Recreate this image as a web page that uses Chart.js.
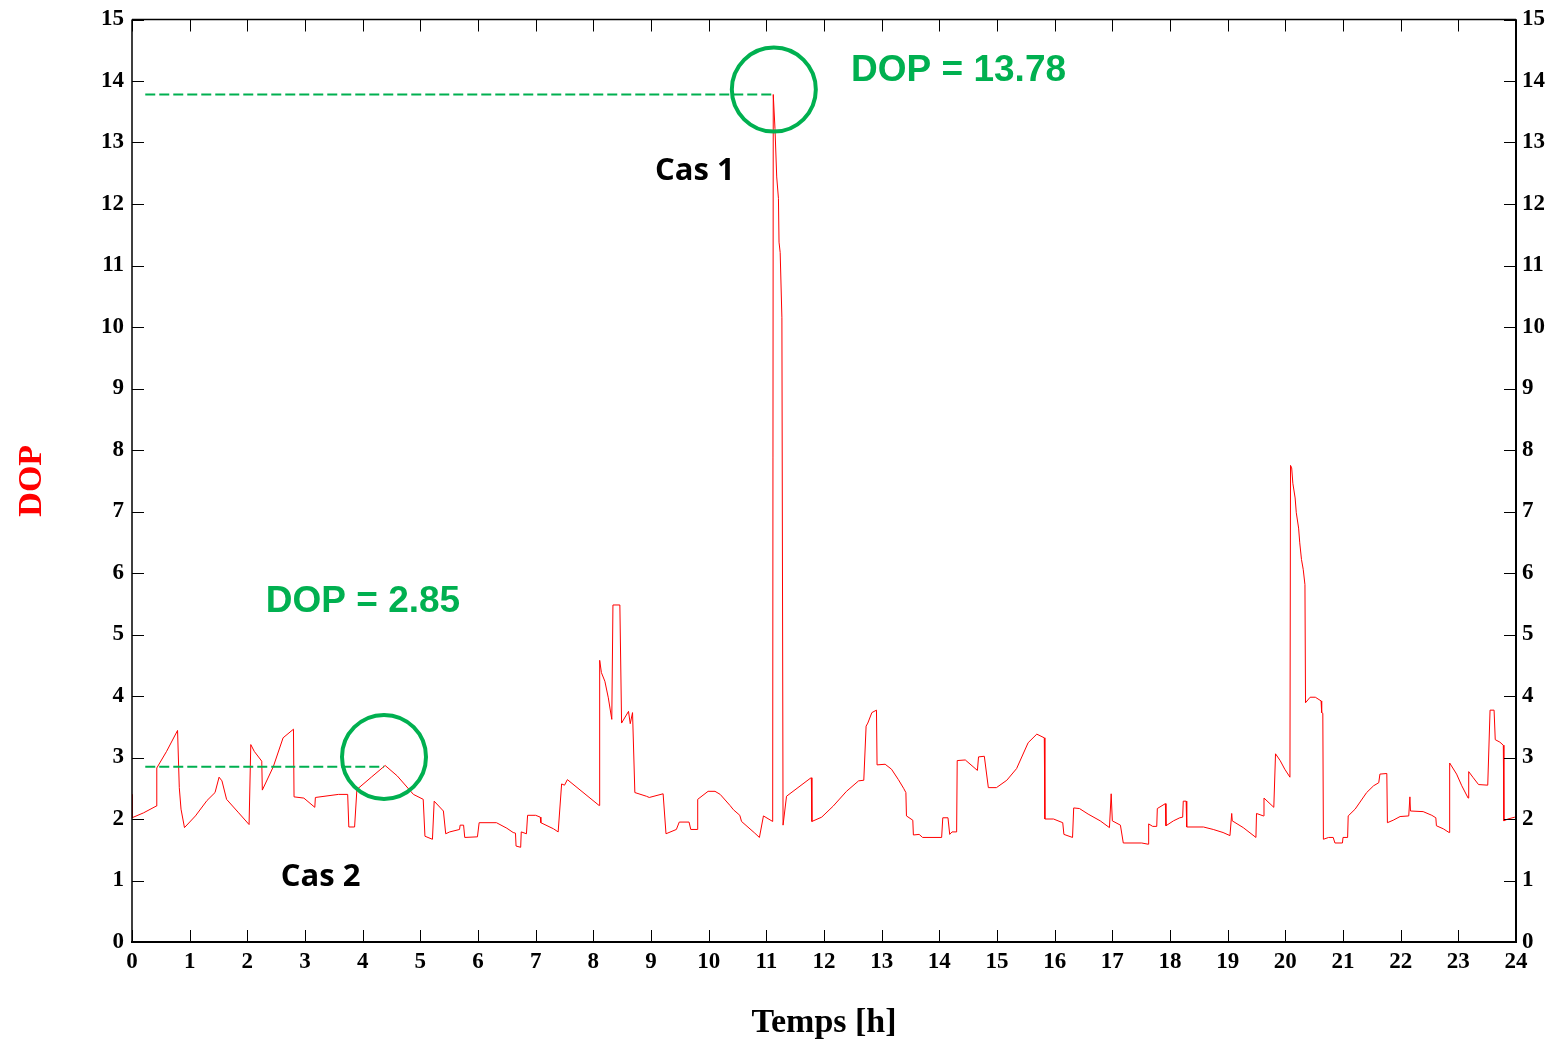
<!DOCTYPE html>
<html>
<head>
<meta charset="utf-8">
<title>DOP</title>
<script src="https://cdn.jsdelivr.net/npm/chart.js@4.4.1/dist/chart.umd.min.js"></script>
<style>
  html, body { margin: 0; padding: 0; background: #fff; }
  #wrap { width: 1556px; height: 1044px; }
</style>
</head>
<body>
<div id="wrap"><canvas id="dopChart" width="1556" height="1044"></canvas></div>
<script>
// temps en heures, valeurs DOP
const timeH = [
  0.00, 0.00, 0.20, 0.42, 0.43, 0.60, 0.79, 0.82, 0.85, 0.91, 1.10, 1.30, 1.44, 1.51, 1.56, 1.64, 1.85, 2.03,
  2.06, 2.12, 2.25, 2.26, 2.45, 2.62, 2.80, 2.81, 2.98, 3.17, 3.18, 3.58, 3.74, 3.76, 3.86, 3.90, 4.15, 4.39,
  4.60, 4.88, 5.05, 5.08, 5.21, 5.24, 5.40, 5.44, 5.51, 5.68, 5.69, 5.75, 5.77, 5.99, 6.02, 6.32, 6.50, 6.61,
  6.65, 6.66, 6.74, 6.75, 6.84, 6.86, 7.00, 7.08, 7.09, 7.31, 7.39, 7.45, 7.50, 7.55, 8.10, 8.11, 8.14, 8.20,
  8.26, 8.32, 8.34, 8.46, 8.49, 8.61, 8.64, 8.68, 8.72, 8.92, 8.97, 9.21, 9.26, 9.44, 9.49, 9.66, 9.69, 9.80,
  9.81, 9.99, 10.11, 10.20, 10.37, 10.43, 10.54, 10.57, 10.80, 10.88, 10.95, 11.11, 11.12, 11.15, 11.18, 11.21,
  11.22, 11.24, 11.27, 11.29, 11.35, 11.76, 11.78, 11.79, 11.96, 12.16, 12.39, 12.60, 12.69, 12.73, 12.76, 12.83,
  12.91, 12.92, 13.06, 13.17, 13.29, 13.38, 13.42, 13.43, 13.54, 13.55, 13.65, 13.71, 14.04, 14.06, 14.15, 14.18,
  14.22, 14.30, 14.31, 14.45, 14.66, 14.68, 14.78, 14.85, 14.99, 15.17, 15.34, 15.54, 15.69, 15.82, 15.83, 15.98,
  16.14, 16.16, 16.31, 16.33, 16.43, 16.58, 16.79, 16.95, 16.98, 17.00, 17.14, 17.19, 17.51, 17.62, 17.63, 17.70,
  17.77, 17.78, 17.92, 17.93, 18.06, 18.17, 18.22, 18.23, 18.28, 18.29, 18.58, 18.75, 18.92, 19.04, 19.07, 19.08,
  19.27, 19.49, 19.50, 19.62, 19.63, 19.80, 19.83, 19.91, 19.99, 20.08, 20.09, 20.11, 20.13, 20.17, 20.19, 20.23,
  20.25, 20.28, 20.31, 20.34, 20.35, 20.43, 20.52, 20.62, 20.63, 20.65, 20.66, 20.75, 20.83, 20.86, 20.99, 21.00,
  21.08, 21.09, 21.21, 21.41, 21.53, 21.62, 21.64, 21.76, 21.77, 21.87, 21.99, 22.14, 22.16, 22.17, 22.39, 22.54,
  22.61, 22.62, 22.74, 22.84, 22.85, 22.97, 23.06, 23.17, 23.18, 23.26, 23.35, 23.51, 23.55, 23.62, 23.64, 23.72,
  23.78, 23.79, 23.86, 23.98
];
const dop = [
  2.40, 2.02, 2.10, 2.21, 2.83, 3.10, 3.44, 2.51, 2.16, 1.86, 2.05, 2.30, 2.43, 2.68, 2.62, 2.32, 2.10, 1.91,
  3.21, 3.10, 2.94, 2.47, 2.85, 3.32, 3.46, 2.36, 2.34, 2.19, 2.35, 2.40, 2.40, 1.87, 1.87, 2.48, 2.68, 2.87,
  2.70, 2.40, 2.32, 1.72, 1.67, 2.29, 2.13, 1.76, 1.79, 1.83, 1.90, 1.90, 1.70, 1.71, 1.94, 1.94, 1.85, 1.78,
  1.77, 1.56, 1.54, 1.79, 1.76, 2.06, 2.06, 2.03, 1.94, 1.84, 1.79, 2.57, 2.55, 2.64, 2.22, 4.58, 4.38, 4.24,
  3.97, 3.62, 5.48, 5.48, 3.56, 3.75, 3.55, 3.73, 2.43, 2.37, 2.35, 2.41, 1.76, 1.83, 1.95, 1.95, 1.83, 1.83,
  2.32, 2.45, 2.45, 2.40, 2.22, 2.15, 2.06, 1.96, 1.77, 1.70, 2.05, 1.96, 13.78, 13.23, 12.44, 12.09,
  11.38, 11.21, 10.15, 1.90, 2.37, 2.66, 2.67, 1.96, 2.03, 2.21, 2.45, 2.62, 2.63, 3.51, 3.56, 3.73,
  3.77, 2.88, 2.89, 2.81, 2.64, 2.50, 2.43, 2.05, 1.98, 1.74, 1.75, 1.70, 1.70, 2.02, 2.02, 1.75,
  1.79, 1.79, 2.95, 2.96, 2.79, 3.01, 3.02, 2.51, 2.51, 2.63, 2.82, 3.24, 3.38, 3.32, 2.00, 2.00,
  1.94, 1.75, 1.70, 2.18, 2.17, 2.08, 1.97, 1.86, 2.41, 1.97, 1.90, 1.61, 1.61, 1.59, 1.92, 1.88,
  1.88, 2.17, 2.25, 1.89, 1.97, 2.02, 2.03, 2.29, 2.29, 1.87, 1.87, 1.83, 1.78, 1.73, 2.09, 1.97,
  1.86, 1.70, 2.09, 2.05, 2.34, 2.19, 3.06, 2.95, 2.81, 2.68, 7.75, 7.71, 7.46, 7.22, 6.98, 6.73,
  6.49, 6.22, 6.06, 5.81, 3.89, 3.98, 3.98, 3.92, 3.73, 3.72, 1.67, 1.70, 1.70, 1.61, 1.61, 1.70,
  1.70, 2.05, 2.16, 2.43, 2.54, 2.59, 2.73, 2.74, 1.94, 1.98, 2.04, 2.05, 2.36, 2.13, 2.12, 2.06,
  2.02, 1.89, 1.84, 1.78, 2.91, 2.73, 2.54, 2.34, 2.77, 2.67, 2.56, 2.55, 3.77, 3.77, 3.29, 3.25,
  3.20, 1.97, 2.00, 2.03
];

// repères (cas 1 et cas 2)
const caseTime = [11.12, 4.39];
const caseDop = [13.78, 2.85];
const refLineStart = 0.23;
const circleX = [11.13, 4.37];
const circleY = [13.86, 3.01];

// textes
const valueText = ["DOP = 13.78", "DOP = 2.85"];
const valueTextX = [12.47, 2.32];
const valueTextY = [14.16, 5.53];
const caseText = ["Cas 1", "Cas 2"];
const caseTextX = [9.07, 2.58];
const caseTextY = [12.53, 1.06];

const GREEN = "#00B050";

const frameTicks = {
  id: "frameTicks",
  afterDatasetsDraw(chart) {
    const { ctx, chartArea: a, scales } = chart;
    ctx.save();
    ctx.strokeStyle = "#000";
    ctx.lineWidth = 1;
    ctx.beginPath();
    scales.y.ticks.forEach(t => {
      const py = Math.round(scales.y.getPixelForValue(t.value)) + 0.5;
      ctx.moveTo(a.left, py); ctx.lineTo(a.left + 12, py);
      ctx.moveTo(a.right, py); ctx.lineTo(a.right - 12, py);
    });
    scales.x.ticks.forEach(t => {
      const px = Math.round(scales.x.getPixelForValue(t.value)) + 0.5;
      ctx.moveTo(px, a.bottom); ctx.lineTo(px, a.bottom - 12);
      ctx.moveTo(px, a.top); ctx.lineTo(px, a.top + 12);
    });
    ctx.stroke();

    ctx.lineWidth = 1.5;
    ctx.beginPath();
    ctx.moveTo(a.left, a.top); ctx.lineTo(a.right, a.top);
    ctx.moveTo(a.left, a.top); ctx.lineTo(a.left, a.bottom);
    ctx.stroke();
    ctx.lineWidth = 2;
    ctx.beginPath();
    ctx.moveTo(a.left - 1, a.bottom); ctx.lineTo(a.right + 1, a.bottom);
    ctx.moveTo(a.right, a.top); ctx.lineTo(a.right, a.bottom);
    ctx.stroke();

    // cercles et textes
    ctx.strokeStyle = GREEN;
    ctx.lineWidth = 4;
    circleX.forEach((cx, i) => {
      ctx.beginPath();
      ctx.arc(scales.x.getPixelForValue(cx), scales.y.getPixelForValue(circleY[i]), 42, 0, Math.PI * 2);
      ctx.stroke();
    });
    ctx.textBaseline = "middle";
    ctx.textAlign = "left";
    ctx.fillStyle = GREEN;
    ctx.font = "bold 37px 'Liberation Sans', Arial, sans-serif";
    valueText.forEach((txt, i) => {
      ctx.fillText(txt, scales.x.getPixelForValue(valueTextX[i]), scales.y.getPixelForValue(valueTextY[i]));
    });
    ctx.fillStyle = "#000";
    ctx.font = "bold 31px 'Open Sans', sans-serif";
    caseText.forEach((txt, i) => {
      ctx.fillText(txt, scales.x.getPixelForValue(caseTextX[i]), scales.y.getPixelForValue(caseTextY[i]));
    });
    ctx.restore();
  }
};

const tickFont = { family: "'Liberation Serif', 'Times New Roman', serif", size: 23, weight: "bold", lineHeight: 1 };
const titleFont = { family: "'Liberation Serif', 'Times New Roman', serif", size: 34, weight: "bold" };

new Chart(document.getElementById("dopChart"), {
  type: "line",
  data: {
    datasets: [
      {
        label: "DOP",
        data: timeH.map((t, i) => ({ x: t, y: dop[i] })),
        borderColor: "#FF0000",
        borderWidth: 1,
        pointRadius: 0,
        tension: 0,
        order: 2
      },
      ...caseTime.map((t, i) => ({
        label: "ref" + i,
        data: [{ x: refLineStart, y: caseDop[i] }, { x: t - 0.02, y: caseDop[i] }],
        borderColor: GREEN,
        borderWidth: 2,
        borderDash: [10, 4],
        pointRadius: 0,
        order: 1
      }))
    ]
  },
  options: {
    responsive: false,
    animation: false,
    layout: { padding: { top: 13, left: 0, right: 0, bottom: 0 } },
    plugins: { legend: { display: false }, tooltip: { enabled: false } },
    scales: {
      x: {
        type: "linear",
        min: 0,
        max: 24,
        afterFit: s => { s.height = 102; },
        ticks: { stepSize: 1, color: "#000", font: tickFont, padding: 9, maxRotation: 0, autoSkip: false },
        grid: { display: false, drawTicks: false },
        border: { display: false },
        title: { display: true, text: "Temps [h]", color: "#000", font: titleFont, padding: { top: 0, bottom: 0 } }
      },
      y: {
        type: "linear",
        position: "left",
        min: 0,
        max: 15,
        afterFit: s => { s.width = 132; },
        ticks: { stepSize: 1, color: "#000", font: tickFont, padding: 8 },
        grid: { display: false, drawTicks: false },
        border: { display: false },
        title: { display: true, text: "DOP", color: "#FF0000", font: titleFont, padding: { top: 12, bottom: 0 } }
      },
      y2: {
        type: "linear",
        position: "right",
        min: 0,
        max: 15,
        afterFit: s => { s.width = 40; },
        ticks: { stepSize: 1, color: "#000", font: tickFont, padding: 6 },
        grid: { display: false, drawTicks: false },
        border: { display: false }
      }
    }
  },
  plugins: [frameTicks]
});
</script>
</body>
</html>
